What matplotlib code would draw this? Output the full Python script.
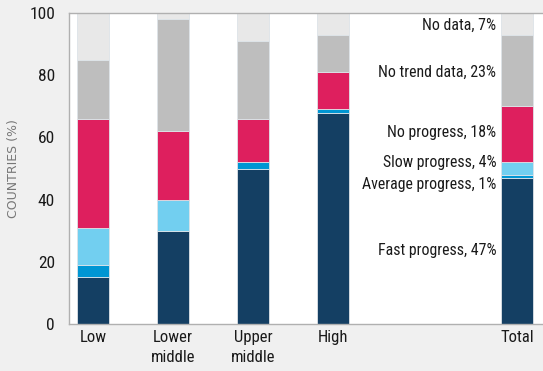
import matplotlib
matplotlib.use("Agg")
import matplotlib.pyplot as plt
from matplotlib import font_manager

categories = ["Low", "Lower\nmiddle", "Upper\nmiddle", "High", "Total"]
series_names = ["Fast progress", "Average progress", "Slow progress",
                "No progress", "No trend data", "No data"]
fast = [15, 30, 50, 68, 47]
average = [4, 0, 2, 1, 1]
slow = [12, 10, 0, 0, 4]
no_progress = [35, 22, 14, 12, 18]
no_trend = [19, 36, 25, 12, 23]
no_data = [15, 2, 9, 7, 7]
y_ticks = [0, 20, 40, 60, 80, 100]

series = [fast, average, slow, no_progress, no_trend, no_data]
colors = ["#143f63", "#0096d3", "#72cff0", "#de1f5e", "#bebebe", "#e8e8e8"]

installed = {f.name for f in font_manager.fontManager.ttflist}
preferred = [f for f in ["Roboto Condensed", "Open Sans Condensed", "Liberation Sans Narrow"]
             if f in installed]
plt.rcParams["font.family"] = preferred + ["DejaVu Sans"]
plt.rcParams["font.stretch"] = "condensed"

x_pos = [0, 1, 2, 3, 5.3]

fig = plt.figure(figsize=(5.43, 3.71), dpi=100)
fig.patch.set_facecolor("#f0f0f0")
ax = fig.add_axes([69 / 543, 47 / 371, 1 - 69 / 543, (324 - 13) / 371])
ax.set_facecolor("white")

bottoms = [0] * len(categories)
for vals, col in zip(series, colors):
    ax.bar(x_pos, vals, width=0.4, bottom=bottoms, color=col,
           edgecolor="#dde3e8", linewidth=0.6, zorder=2)
    bottoms = [b + v for b, v in zip(bottoms, vals)]

# labels for the Total column
label_y = [23.5, 45, 51.8, 61.7, 81, 96.1]
for name, vals, yy in zip(series_names, series, label_y):
    ax.text(5.04, yy, f"{name}, {vals[-1]}%", ha="right", va="center",
            fontsize=11.4, color="#1a1a1a")

ax.set_xlim(-0.3, 5.625)
ax.set_ylim(0, 100)
ax.set_yticks(y_ticks)
ax.set_yticklabels([str(t) for t in y_ticks], fontsize=12.5, color="#1a1a1a")
ax.set_xticks(x_pos)
ax.set_xticklabels(categories, fontsize=12, color="#1a1a1a", linespacing=1.45)
ax.tick_params(axis="y", length=0, pad=10)
ax.tick_params(axis="x", length=0, pad=4)
ax.set_ylabel("COUNTRIES (%)", fontsize=9, color="#777777",
              family="DejaVu Sans", fontstretch="normal")
ax.yaxis.set_label_coords(-0.103, 0.5)

for side in ["left", "bottom", "top"]:
    ax.spines[side].set_color("#b0b0b0")
    ax.spines[side].set_linewidth(1.0)
ax.spines["right"].set_visible(False)

fig.savefig("out.png", dpi=100, facecolor=fig.get_facecolor())
